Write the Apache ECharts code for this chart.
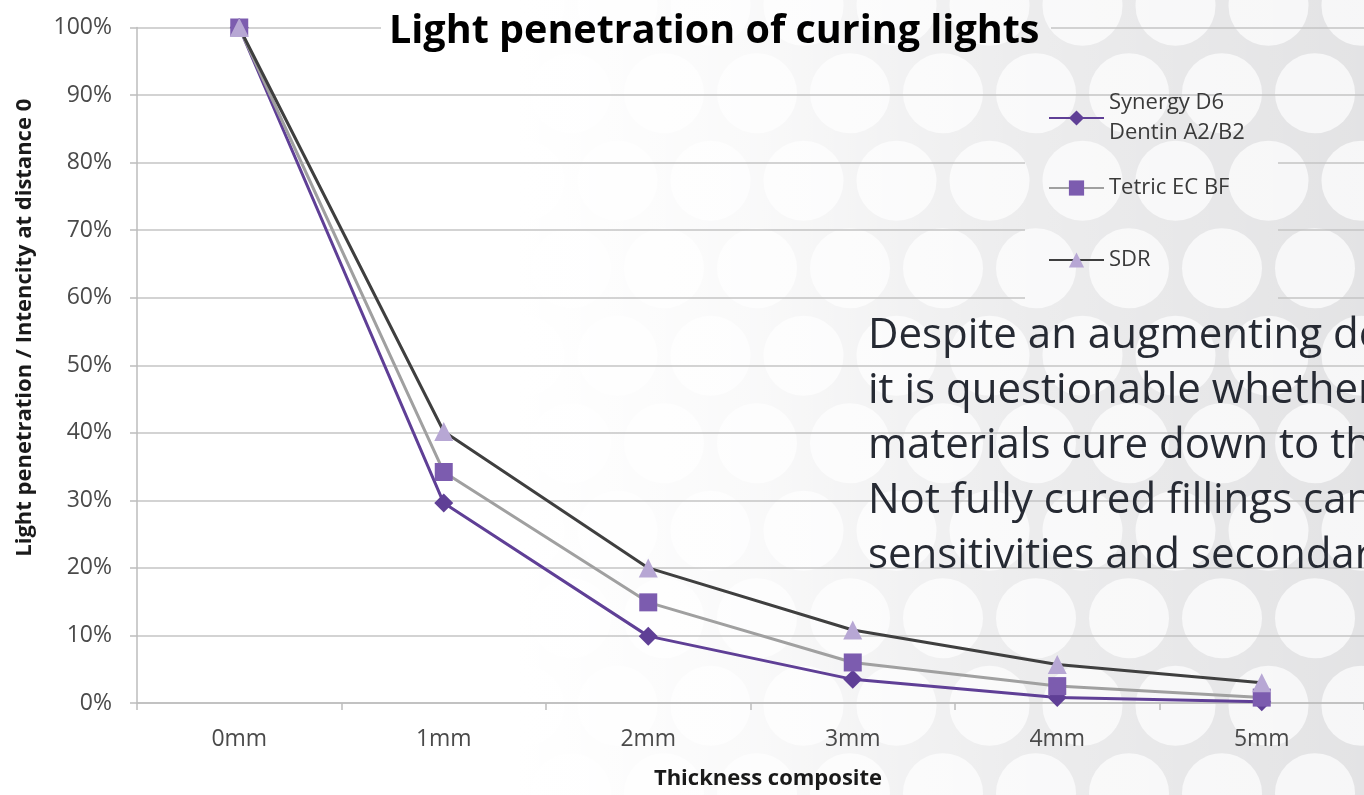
<!DOCTYPE html>
<html>
<head>
<meta charset="utf-8">
<title>Light penetration of curing lights</title>
<script src="https://cdn.jsdelivr.net/npm/echarts@6/dist/echarts.min.js"></script>
<style>
html, body { margin: 0; padding: 0; background: #fff; }
#main { width: 1364px; height: 795px; }
</style>
</head>
<body>
<div id="main"></div>
<script>
// values (% of intensity at distance 0)
var categories = ['0mm', '1mm', '2mm', '3mm', '4mm', '5mm'];
var synergy = [100, 29.6, 9.9, 3.5, 0.8, 0.2];
var tetric = [100, 34.2, 14.9, 6.0, 2.5, 0.8];
var sdr = [100, 40.2, 20.0, 10.8, 5.7, 3.0];

var seriesNames = ['Synergy D6 Dentin A2/B2', 'Tetric EC BF', 'SDR'];
var noteLines = [
	'Despite an augmenting depth of cure,',
	'it is questionable whether these',
	'materials cure down to the bottom.',
	'Not fully cured fillings can cause post-op',
	'sensitivities and secondary caries.'
];

var FONT = '"Open Sans", "Noto Sans", sans-serif';

// circle pattern used for the slide background
function makePattern() {
	var c = document.createElement('canvas');
	c.width = 93;
	c.height = 175;
	var ctx = c.getContext('2d');
	ctx.fillStyle = '#dadadc';
	ctx.fillRect(0, 0, 93, 175);
	ctx.fillStyle = '#f4f4f5';
	var rows = [[59.5, 5.7], [13, 93.2]];
	for (var r = 0; r < rows.length; r++) {
		for (var dx = -93; dx <= 93; dx += 93) {
			for (var dy = -175; dy <= 175; dy += 175) {
				ctx.beginPath();
				ctx.arc(rows[r][0] + dx, rows[r][1] + dy, 40, 0, Math.PI * 2);
				ctx.fill();
			}
		}
	}
	return c;
}

var pattern = { image: makePattern(), repeat: 'repeat' };
var fade = {
	type: 'linear', x: 0, y: 0, x2: 1364, y2: 0, global: true,
	colorStops: [
		{ offset: 0, color: 'rgba(255,255,255,1)' },
		{ offset: 0.38, color: 'rgba(255,255,255,1)' },
		{ offset: 0.55, color: 'rgba(255,255,255,0.85)' },
		{ offset: 0.75, color: 'rgba(255,255,255,0.5)' },
		{ offset: 1, color: 'rgba(255,255,255,0.25)' }
	]
};

// a piece of background laid over the grid lines (title and legend boxes)
function patch(x, y, w, h, z) {
	return [
		{ type: 'rect', silent: true, z: z, shape: { x: x, y: y, width: w, height: h }, style: { fill: pattern } },
		{ type: 'rect', silent: true, z: z, shape: { x: x, y: y, width: w, height: h }, style: { fill: fade } }
	];
}

var graphics = [].concat(
	patch(0, 0, 1364, 795, -10),
	patch(381, 6, 670, 46, 1),
	patch(1025, 103, 253, 209, 1)
);
for (var i = 0; i < noteLines.length; i++) {
	graphics.push({
		type: 'text',
		silent: true,
		z: 10,
		x: 868,
		y: 336 + i * 55,
		style: {
			text: noteLines[i],
			fill: '#262a33',
			font: '42px ' + FONT,
			verticalAlign: 'middle',
			align: 'left'
		}
	});
}

var myChart = echarts.init(document.getElementById('main'));

var legendText = { color: '#3a3a3a', fontFamily: FONT, fontSize: 22, lineHeight: 30 };

var option = {
	animation: false,
	backgroundColor: '#ffffff',
	title: {
		text: 'Light penetration of curing lights',
		left: 389,
		top: 12,
		padding: 0,
		textStyle: { fontFamily: FONT, fontSize: 39.5, fontWeight: 'bold', color: '#000000' }
	},
	graphic: graphics,
	legend: [
		{
			data: [seriesNames[0]],
			left: 1048, top: 73, padding: 0,
			itemWidth: 55, itemHeight: 19,
			formatter: function () { return 'Synergy D6\nDentin A2/B2'; },
			textStyle: Object.assign({ padding: [30, 0, 0, 0] }, legendText)
		},
		{
			data: [seriesNames[1]],
			left: 1048, top: 173, padding: 0,
			itemWidth: 55, itemHeight: 19,
			textStyle: legendText
		},
		{
			data: [seriesNames[2]],
			left: 1048, top: 245, padding: 0,
			itemWidth: 55, itemHeight: 19,
			textStyle: legendText
		}
	],
	grid: { left: 137, right: -9, top: 27.5, bottom: 90, containLabel: false },
	xAxis: {
		type: 'category',
		data: categories,
		boundaryGap: true,
		name: 'Thickness composite',
		nameLocation: 'middle',
		nameGap: 65,
		nameTextStyle: { fontFamily: FONT, fontSize: 22, fontWeight: 'bold', color: '#1a1a1a', padding: [0, 0, 0, 35] },
		axisLine: { lineStyle: { color: '#bdbdbd', width: 1.5 } },
		axisTick: { show: true, length: 7, lineStyle: { color: '#bdbdbd', width: 1.5 } },
		axisLabel: { fontFamily: FONT, fontSize: 23, color: '#4a4a4a', margin: 25 },
		splitLine: { show: false }
	},
	yAxis: {
		type: 'value',
		min: 0,
		max: 100,
		interval: 10,
		name: 'Light penetration / Intencity at distance 0',
		nameLocation: 'middle',
		nameGap: 101,
		nameRotate: 90,
		nameTextStyle: { fontFamily: FONT, fontSize: 22, fontWeight: 'bold', color: '#1a1a1a', padding: [0, 0, 0, 75] },
		axisLine: { show: true, lineStyle: { color: '#bdbdbd', width: 1.5 } },
		axisTick: { show: true, length: 7, lineStyle: { color: '#bdbdbd', width: 1.5 } },
		axisLabel: { formatter: '{value}%', fontFamily: FONT, fontSize: 23, color: '#4a4a4a', margin: 25 },
		splitLine: { show: true, lineStyle: { color: '#c4c4c4', width: 1.5 } }
	},
	series: [
		{
			name: seriesNames[0],
			type: 'line',
			data: synergy,
			symbol: 'diamond',
			symbolSize: 19,
			showAllSymbol: true,
			lineStyle: { color: '#5f3f96', width: 3 },
			itemStyle: { color: '#5f3f96' }
		},
		{
			name: seriesNames[1],
			type: 'line',
			data: tetric,
			symbol: 'rect',
			symbolSize: 18,
			showAllSymbol: true,
			lineStyle: { color: '#a0a0a0', width: 3 },
			itemStyle: { color: '#7c5caf' }
		},
		{
			name: seriesNames[2],
			type: 'line',
			data: sdr,
			symbol: 'triangle',
			symbolSize: 19,
			showAllSymbol: true,
			lineStyle: { color: '#3f3f3f', width: 3 },
			itemStyle: { color: '#b7a7d4' }
		}
	]
};

myChart.setOption(option);
</script>
</body>
</html>
